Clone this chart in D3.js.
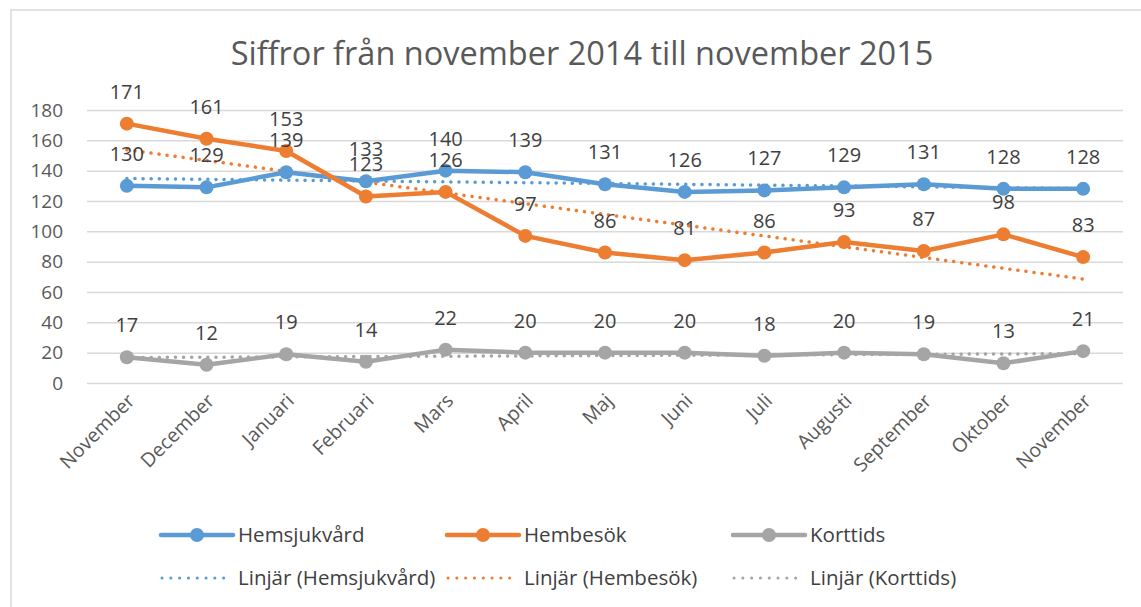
<!DOCTYPE html>
<html>
<head>
<meta charset="utf-8">
<script src="https://cdn.jsdelivr.net/npm/d3@7"></script>
<style>
  body { margin: 0; background: #fff; }
  svg { display: block; }
</style>
</head>
<body>
<svg id="chart"></svg>
<script>
// Chart data
const months = ["November", "December", "Januari", "Februari", "Mars", "April", "Maj",
    "Juni", "Juli", "Augusti", "September", "Oktober", "November"]
const hemsjukvard = [130, 129, 139, 133, 140, 139, 131, 126, 127, 129, 131, 128, 128]
const hembesok = [171, 161, 153, 123, 126, 97, 86, 81, 86, 93, 87, 98, 83]
const korttids = [17, 12, 19, 14, 22, 20, 20, 20, 18, 20, 19, 13, 21]
const yTicks = [0, 20, 40, 60, 80, 100, 120, 140, 160, 180]

const seriesList = [
    { name: "Hemsjukvård", values: hemsjukvard, color: "#5B9BD5" },
    { name: "Hembesök", values: hembesok, color: "#ED7D31" },
    { name: "Korttids", values: korttids, color: "#A5A5A5" }
]

const width = 1141
const height = 607
const svg = d3.select("#chart")
    .attr("width", width)
    .attr("height", height)

// chart border
svg.append("rect")
    .attr("x", 11).attr("y", 10)
    .attr("width", 1140).attr("height", 620)
    .attr("fill", "none")
    .attr("stroke", "#D9D9D9")
    .attr("stroke-width", 1.5)

const plot = { left: 87, right: 1123, top: 110, bottom: 383 }

const x = d3.scaleBand()
    .domain(d3.range(months.length))
    .range([plot.left, plot.right])
const cx = i => x(i) + x.bandwidth() / 2

const y = d3.scaleLinear()
    .domain([0, 180])
    .range([plot.bottom, plot.top])

// title
svg.append("text")
    .attr("x", 582)
    .attr("y", 65)
    .attr("text-anchor", "middle")
    .attr("font-family", "Open Sans")
    .attr("font-size", 32.5)
    .attr("fill", "#595959")
    .text("Siffror från november 2014 till november 2015")

// gridlines + y labels
const yAxis = d3.axisLeft(y).tickValues(yTicks).tickSize(-(plot.right - plot.left)).tickPadding(24)
svg.append("g")
    .attr("transform", `translate(${plot.left},0)`)
    .call(yAxis)
    .call(g => g.select(".domain").remove())
    .call(g => g.selectAll("line").attr("stroke", "#D9D9D9").attr("stroke-width", 1.5))
    .call(g => g.selectAll("text")
        .attr("font-family", "Open Sans")
        .attr("font-size", 19)
        .attr("fill", "#595959"))

// x labels, rotated
svg.append("g")
    .selectAll("text")
    .data(months)
    .join("text")
    .attr("transform", (d, i) => `translate(${cx(i) + 9},${plot.bottom + 19}) rotate(-45)`)
    .attr("text-anchor", "end")
    .attr("font-family", "Open Sans")
    .attr("font-size", 19.5)
    .attr("fill", "#595959")
    .text(d => d)

// linear trend (least squares) per series
function trend(values) {
    const n = values.length
    const xm = (n - 1) / 2
    const ym = d3.mean(values)
    let num = 0, den = 0
    values.forEach((v, i) => { num += (i - xm) * (v - ym); den += (i - xm) ** 2 })
    const slope = num / den
    return [0, n - 1].map(i => [i, ym + slope * (i - xm)])
}

const line = d3.line().x(d => cx(d[0])).y(d => y(d[1]))

seriesList.forEach(s => {
    svg.append("path")
        .attr("d", line(trend(s.values)))
        .attr("fill", "none")
        .attr("stroke", s.color)
        .attr("stroke-width", 3.5)
        .attr("stroke-linecap", "round")
        .attr("stroke-dasharray", "0.1,8")
})

seriesList.forEach(s => {
    const pts = s.values.map((v, i) => [i, v])
    svg.append("path")
        .attr("d", line(pts))
        .attr("fill", "none")
        .attr("stroke", s.color)
        .attr("stroke-width", 4.5)
        .attr("stroke-linejoin", "round")
    svg.append("g").selectAll("circle")
        .data(pts)
        .join("circle")
        .attr("cx", d => cx(d[0]))
        .attr("cy", d => y(d[1]))
        .attr("r", 7)
        .attr("fill", s.color)
})

// data labels above the points
seriesList.forEach(s => {
    svg.append("g").selectAll("text")
        .data(s.values)
        .join("text")
        .attr("x", (d, i) => cx(i))
        .attr("y", d => y(d) - 25)
        .attr("text-anchor", "middle")
        .attr("font-family", "Open Sans")
        .attr("font-size", 20)
        .attr("fill", "#404040")
        .text(d => d)
})

// legend
const legendCols = [161, 447, 733]
const legend = svg.append("g")
seriesList.forEach((s, k) => {
    const lx = legendCols[k]
    // series entry
    legend.append("line")
        .attr("x1", lx).attr("x2", lx + 72)
        .attr("y1", 535).attr("y2", 535)
        .attr("stroke", s.color).attr("stroke-width", 4.5)
        .attr("stroke-linecap", "round")
    legend.append("circle")
        .attr("cx", lx + 36).attr("cy", 535).attr("r", 7)
        .attr("fill", s.color)
    legend.append("text")
        .attr("x", lx + 77).attr("y", 542)
        .attr("font-family", "Open Sans")
        .attr("font-size", 20.5)
        .attr("fill", "#404040")
        .text(s.name)
    // trend entry
    legend.append("line")
        .attr("x1", lx + 1).attr("x2", lx + 71)
        .attr("y1", 578).attr("y2", 578)
        .attr("stroke", s.color).attr("stroke-width", 3)
        .attr("stroke-linecap", "round")
        .attr("stroke-dasharray", "0.1,8.7")
    legend.append("text")
        .attr("x", lx + 77).attr("y", 585)
        .attr("font-family", "Open Sans")
        .attr("font-size", 20.5)
        .attr("fill", "#404040")
        .text(`Linjär (${s.name})`)
})
</script>
</body>
</html>
